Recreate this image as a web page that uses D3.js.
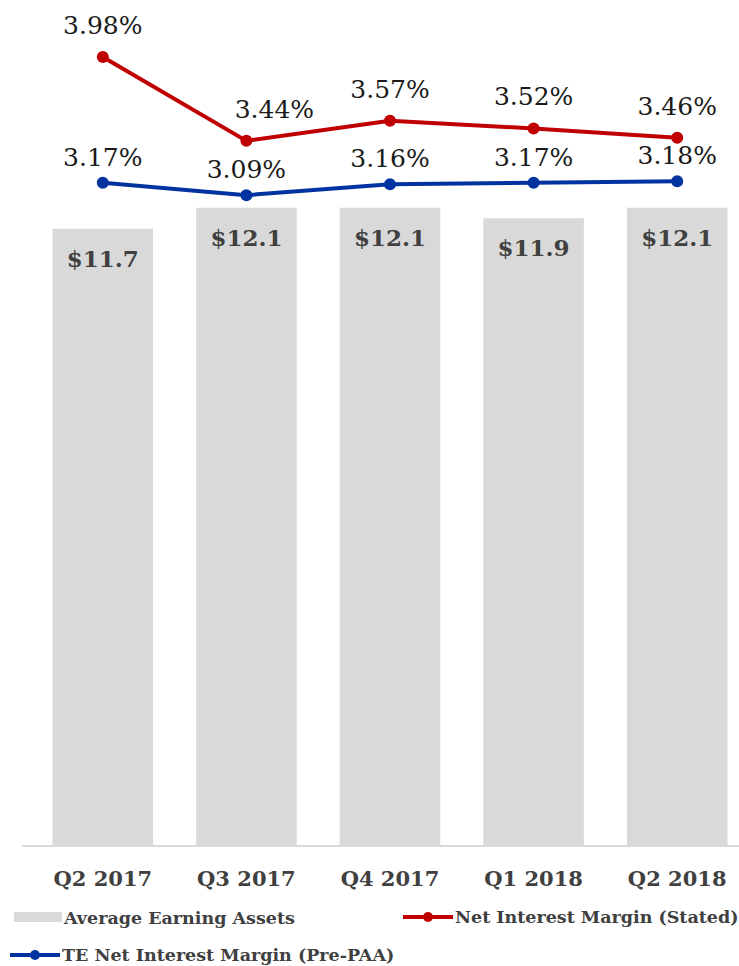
<!DOCTYPE html>
<html>
<head>
    <script src="https://cdnjs.cloudflare.com/ajax/libs/d3/7.8.5/d3.min.js"></script>
    <style>
        body { margin: 0; background: #fff; }
        .pct { font-family: 'DejaVu Serif', serif; font-size: 25px; fill: #1a1a1a; text-anchor: middle; }
        .barlbl { font-family: 'DejaVu Serif', serif; font-weight: bold; font-size: 23px; fill: #404040; text-anchor: middle; }
        .cat { font-family: 'DejaVu Serif', serif; font-weight: bold; font-size: 21px; fill: #404040; text-anchor: middle; }
        .leg { font-family: 'DejaVu Serif', serif; font-weight: bold; font-size: 17.5px; fill: #404040; }
    </style>
</head>
<body>
<script>
    // data
    const quarters = ['Q2 2017', 'Q3 2017', 'Q4 2017', 'Q1 2018', 'Q2 2018']
    const assets = [11.7, 12.1, 12.1, 11.9, 12.1]          // $ billions
    const nimStated = [3.98, 3.44, 3.57, 3.52, 3.46]       // %
    const nimPrePAA = [3.17, 3.09, 3.16, 3.17, 3.18]       // %

    const w = 739, h = 966
    const base = 845

    const svg = d3.select('body').append('svg')
        .attr('width', w)
        .attr('height', h)

    const x = d3.scaleBand()
        .domain(quarters)
        .range([31, 749])
        .paddingInner(0.3)
        .paddingOuter(0.15)

    const y = d3.scaleLinear().domain([0, 15]).range([base, 55])
    const y2 = d3.scaleLinear().domain([-1.1, 4.0]).range([base, 54])

    const cx = q => x(q) + x.bandwidth() / 2

    // bars
    svg.selectAll('rect.bar')
        .data(assets)
        .enter()
        .append('rect')
        .attr('class', 'bar')
        .attr('x', (d, i) => x(quarters[i]))
        .attr('y', d => y(d))
        .attr('width', x.bandwidth())
        .attr('height', d => base - y(d))
        .attr('fill', '#d9d9d9')

    svg.selectAll('text.barlbl')
        .data(assets)
        .enter()
        .append('text')
        .attr('class', 'barlbl')
        .attr('x', (d, i) => cx(quarters[i]))
        .attr('y', d => y(d) + 38)
        .text(d => '$' + d.toFixed(1))

    // baseline axis
    svg.append('line')
        .attr('x1', 22).attr('x2', w)
        .attr('y1', base + 1).attr('y2', base + 1)
        .attr('stroke', '#d9d9d9')
        .attr('stroke-width', 2)

    svg.selectAll('text.cat')
        .data(quarters)
        .enter()
        .append('text')
        .attr('class', 'cat')
        .attr('x', d => cx(d))
        .attr('y', 886)
        .text(d => d)

    // lines
    const line = d3.line()
        .x((d, i) => cx(quarters[i]))
        .y(d => y2(d))

    function drawSeries(vals, color, above, nudge) {
        svg.append('path')
            .datum(vals)
            .attr('d', line)
            .attr('fill', 'none')
            .attr('stroke', color)
            .attr('stroke-width', 4)
            .attr('stroke-linejoin', 'round')
        svg.append('g').selectAll('circle')
            .data(vals)
            .enter()
            .append('circle')
            .attr('cx', (d, i) => cx(quarters[i]))
            .attr('cy', d => y2(d))
            .attr('r', 6)
            .attr('fill', color)
        svg.append('g').selectAll('text')
            .data(vals)
            .enter()
            .append('text')
            .attr('class', 'pct')
            .attr('x', (d, i) => cx(quarters[i]) + (nudge[i] || 0))
            .attr('y', d => y2(d) - above)
            .text(d => d.toFixed(2) + '%')
    }

    drawSeries(nimStated, '#c00000', 23, { 1: 28 })
    drawSeries(nimPrePAA, '#0033a0', 17, {})

    // legend
    const leg = svg.append('g')
    leg.append('rect')
        .attr('x', 14).attr('y', 912)
        .attr('width', 48).attr('height', 10)
        .attr('fill', '#d9d9d9')
    leg.append('text').attr('class', 'leg')
        .attr('x', 64).attr('y', 924)
        .text('Average Earning Assets')

    function legLine(x0, yy, color, label) {
        leg.append('line')
            .attr('x1', x0).attr('x2', x0 + 50)
            .attr('y1', yy).attr('y2', yy)
            .attr('stroke', color).attr('stroke-width', 4)
        leg.append('circle')
            .attr('cx', x0 + 25).attr('cy', yy).attr('r', 5)
            .attr('fill', color)
        leg.append('text').attr('class', 'leg')
            .attr('x', x0 + 52).attr('y', yy + 6)
            .text(label)
    }
    legLine(403, 917, '#c00000', 'Net Interest Margin (Stated)')
    legLine(10, 955, '#0033a0', 'TE Net Interest Margin (Pre-PAA)')
</script>
</body>
</html>
